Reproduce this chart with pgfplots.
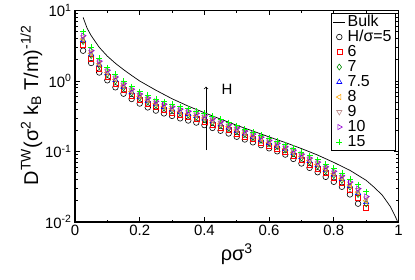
\documentclass[border=0pt]{standalone}
\usepackage{fontspec}
\setmainfont{Liberation Sans}
\usepackage{pgfplots}
\usepackage{pgfplotstable}
\pgfplotsset{compat=1.18}
\usetikzlibrary{calc}
\definecolor{gA}{RGB}{0,139,0}
\definecolor{gB}{RGB}{0,255,0}
\definecolor{oA}{RGB}{255,165,0}
\definecolor{bA}{RGB}{188,143,143}
\definecolor{vA}{RGB}{148,0,211}

\pgfplotstableread{
x h5 h6 h7 h75 h8 h9 h10 h15
0.025 2.69 3.22 3.63 3.79 3.94 4.19 4.40 5.01
0.05 1.80 2.09 2.30 2.39 2.47 2.59 2.70 3.01
0.075 1.32 1.51 1.65 1.71 1.75 1.84 1.91 2.11
0.1 1.023 1.153 1.247 1.285 1.318 1.374 1.419 1.549
0.125 0.813 0.920 0.998 1.028 1.054 1.099 1.138 1.245
0.15 0.661 0.745 0.805 0.830 0.851 0.887 0.916 1.000
0.175 0.556 0.625 0.675 0.693 0.711 0.740 0.764 0.832
0.2 0.479 0.536 0.578 0.594 0.608 0.632 0.652 0.708
0.225 0.422 0.472 0.509 0.524 0.536 0.557 0.574 0.624
0.25 0.380 0.425 0.456 0.469 0.480 0.498 0.513 0.556
0.275 0.347 0.387 0.416 0.428 0.438 0.454 0.468 0.507
0.3 0.320 0.357 0.384 0.394 0.404 0.419 0.432 0.468
0.325 0.295 0.330 0.354 0.364 0.372 0.386 0.398 0.431
0.35 0.275 0.308 0.330 0.340 0.348 0.361 0.372 0.403
0.375 0.257 0.287 0.308 0.317 0.324 0.336 0.347 0.376
0.4 0.237 0.265 0.284 0.292 0.299 0.310 0.320 0.347
0.425 0.216 0.242 0.259 0.267 0.273 0.283 0.292 0.316
0.45 0.197 0.220 0.235 0.242 0.247 0.256 0.264 0.285
0.475 0.180 0.200 0.214 0.219 0.224 0.232 0.239 0.257
0.5 0.162 0.180 0.193 0.197 0.202 0.209 0.215 0.232
0.525 0.148 0.163 0.175 0.179 0.183 0.189 0.194 0.209
0.55 0.135 0.149 0.158 0.162 0.165 0.171 0.176 0.188
0.575 0.123 0.135 0.144 0.147 0.150 0.155 0.159 0.170
0.6 0.111 0.122 0.129 0.132 0.135 0.139 0.143 0.153
0.625 0.1007 0.1106 0.1175 0.1202 0.1226 0.1266 0.1299 0.1390
0.65 0.0904 0.0993 0.1055 0.1079 0.1100 0.1136 0.1166 0.1248
0.675 0.0785 0.0871 0.0932 0.0955 0.0976 0.1011 0.1041 0.1122
0.7 0.0676 0.0755 0.0811 0.0834 0.0853 0.0885 0.0912 0.0988
0.725 0.0586 0.0658 0.0710 0.0731 0.0748 0.0779 0.0805 0.0875
0.75 0.0508 0.0573 0.0620 0.0638 0.0654 0.0682 0.0705 0.0769
0.775 0.0437 0.0492 0.0533 0.0549 0.0563 0.0586 0.0606 0.0662
0.8 0.0372 0.0422 0.0458 0.0472 0.0484 0.0506 0.0524 0.0574
0.825 0.0316 0.0361 0.0393 0.0406 0.0417 0.0436 0.0452 0.0497
0.85 0.0246 0.0285 0.0314 0.0325 0.0335 0.0353 0.0368 0.0409
0.875 0.0182 0.0218 0.0246 0.0257 0.0266 0.0284 0.0298 0.0340
0.9 nan 0.0157 0.0181 0.0191 0.0200 0.0216 0.0230 0.0269
}\simdata

\pgfplotstableread{
x D
0.025 8.0
0.0375 5.6
0.05 4.4
0.075 3.0
0.1 2.25
0.125 1.78
0.15 1.45
0.175 1.2
0.2 1.0
0.25 0.74
0.3 0.56
0.35 0.44
0.4 0.355
0.45 0.288
0.5 0.235
0.55 0.195
0.6 0.161
0.65 0.134
0.7 0.11
0.75 0.089
0.8 0.07
0.85 0.054
0.9 0.039
0.925 0.031
0.95 0.024
0.975 0.0165
0.99 0.012
1.0 0.0095
}\bulkdata

\begin{document}
\begin{tikzpicture}
\begin{axis}[
  name=ax,
  scale only axis,
  width=323.5bp, height=211.5bp,
  xmin=0, xmax=1,
  ymode=log, ymin=0.01, ymax=10,
  xtick={0,0.2,0.4,0.6,0.8,1},
  xticklabels={0,0.2,0.4,0.6,0.8,1},
  minor x tick num=1,
  ytick={0.01,0.1,1,10},
  yticklabels={10\textsuperscript{-2},10\textsuperscript{-1},10\textsuperscript{0},10\textsuperscript{1}},
  tick align=inside,
  major tick length=5bp,
  minor tick length=2.5bp,
  tick style={line width=0.7bp, black},
  axis line style={line width=1.6bp},
  ticklabel style={font=\fontsize{15}{15}\selectfont},
  xlabel={ρσ\textsuperscript{3}},
  xlabel style={at={(axis description cs:0.5,-0.10)}, anchor=north, inner sep=0pt, font=\fontsize{20}{20}\selectfont},
  ylabel={D\textsuperscript{TW}(σ\textsuperscript{2} k\textsubscript{B} T/m)\textsuperscript{-1/2}},
  ylabel style={at={(axis description cs:-0.135,0.553)}, anchor=center, inner sep=0pt, font=\fontsize{20}{20}\selectfont},
  legend style={at={(0.992,0.987)}, anchor=north east, draw=black, line width=0.6bp,
    font=\fontsize{16}{16}\selectfont, inner xsep=2bp, inner ysep=1bp,
    nodes={inner ysep=0.5bp, inner xsep=2bp, text height=11.5bp, text depth=2.5bp}},
  legend cell align=left,
  legend image code/.code={\draw[mark repeat=2,mark phase=2] plot coordinates {(0bp,0bp)(6bp,0bp)(12bp,0bp)};},
  clip=true,
]
\addplot[black, line width=0.7bp, no marks] table[x=x,y=D] {\bulkdata};
\addlegendentry{Bulk}
\addplot[only marks, black, mark=o, mark size=2.8bp, mark options={line width=0.6bp}] table[x=x,y=h5] {\simdata};
\addlegendentry{H/σ=5}
\addplot[only marks, red, mark=square, mark size=2.5bp, mark options={line width=0.6bp}] table[x=x,y=h6] {\simdata};
\addlegendentry{6}
\addplot[only marks, gA, mark=diamond, mark size=3bp, mark options={line width=0.6bp}] table[x=x,y=h7] {\simdata};
\addlegendentry{7}
\addplot[only marks, blue, mark=triangle, mark size=3bp, mark options={line width=0.6bp}] table[x=x,y=h75] {\simdata};
\addlegendentry{7.5}
\addplot[only marks, oA, mark=triangle, mark size=3bp, mark options={line width=0.6bp, rotate=90}] table[x=x,y=h8] {\simdata};
\addlegendentry{8}
\addplot[only marks, bA, mark=triangle, mark size=3bp, mark options={line width=0.6bp, rotate=180}] table[x=x,y=h9] {\simdata};
\addlegendentry{9}
\addplot[only marks, vA, mark=triangle, mark size=3bp, mark options={line width=0.6bp, rotate=-90}] table[x=x,y=h10] {\simdata};
\addlegendentry{10}
\addplot[only marks, gB, mark=+, mark size=3bp, mark options={line width=0.7bp}] table[x=x,y=h15] {\simdata};
\addlegendentry{15}
\draw[->, line width=0.7bp] (axis cs:0.405,0.105) -- (axis cs:0.405,0.83);
\node[font=\fontsize{15}{15}\selectfont, anchor=center] at (axis cs:0.47,0.77) {H};
\end{axis}
\pgfresetboundingbox
\path[use as bounding box] ($(ax.south west)+(-75bp,-58bp)$) rectangle ($(ax.north east)+(16.5bp,10.5bp)$);
\end{tikzpicture}
\end{document}
